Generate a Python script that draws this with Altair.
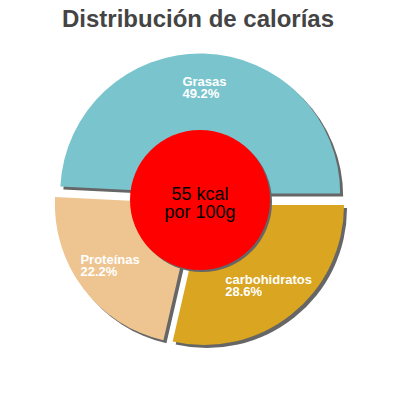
import altair as alt
import pandas as pd

# ---- data ----
categories = ["carbohidratos", "Proteínas", "Grasas"]
percents = [28.6, 22.2, 49.2]
slice_colors = ["#DAA520", "#EEC591", "#7AC5CD"]
kcal = [55]
center_unit = ["kcal", "por 100g"]
title_text = "Distribución de calorías"

# ---- layout / style ----
CX, CY = 192, 152      # pie centre in plot coordinates
R = 140                # outer radius
EXPLODE = 6.5          # explode distance of slices
LABEL_R = 105          # label distance from slice centre
SHADOW = 3             # shadow offset
HOLE_R = 70
FONT = "Liberation Sans"

df = pd.DataFrame({"cat": categories, "pct": percents, "order": list(range(len(categories)))})

base = (
    alt.Chart(df)
    .transform_window(cum="sum(pct)", sort=[alt.SortField("order")])
    .transform_calculate(a0="PI/2 + 2*PI*(datum.cum - datum.pct)/100")
    .transform_calculate(a1="PI/2 + 2*PI*datum.cum/100")
    .transform_calculate(mid="(datum.a0 + datum.a1)/2")
    .transform_calculate(cx=f"{CX} + {EXPLODE}*sin(datum.mid)")
    .transform_calculate(cy=f"{CY} - {EXPLODE}*cos(datum.mid)")
    .transform_calculate(sx=f"datum.cx + {SHADOW}")
    .transform_calculate(sy=f"datum.cy + {SHADOW}")
    .transform_calculate(lx=f"datum.cx + {LABEL_R}*sin(datum.mid) - 6.8*length(datum.cat)/2")
    .transform_calculate(ly=f"datum.cy - {LABEL_R}*cos(datum.mid)")
    .transform_calculate(pl="format(datum.pct, '.1f') + '%'")
)

shadows = base.mark_arc(outerRadius=R, color="#666666").encode(
    x=alt.X("sx:Q", scale=None, axis=None),
    y=alt.Y("sy:Q", scale=None, axis=None),
    theta=alt.Theta("a0:Q", scale=None),
    theta2="a1:Q",
)

slices = base.mark_arc(outerRadius=R).encode(
    x=alt.X("cx:Q", scale=None, axis=None),
    y=alt.Y("cy:Q", scale=None, axis=None),
    theta=alt.Theta("a0:Q", scale=None),
    theta2="a1:Q",
    color=alt.Color("cat:N", scale=alt.Scale(domain=categories, range=slice_colors), legend=None),
)

names = base.mark_text(
    align="left", baseline="alphabetic", dy=-3, fontSize=13, fontWeight="bold", font=FONT, color="white"
).encode(
    x=alt.X("lx:Q", scale=None, axis=None),
    y=alt.Y("ly:Q", scale=None, axis=None),
    text="cat:N",
)

pcts = base.mark_text(
    align="left", baseline="alphabetic", dy=9, fontSize=13, fontWeight="bold", font=FONT, color="white"
).encode(
    x=alt.X("lx:Q", scale=None, axis=None),
    y=alt.Y("ly:Q", scale=None, axis=None),
    text="pl:N",
)

cdf = pd.DataFrame({"kcal": kcal})
center = alt.Chart(cdf).transform_calculate(
    label=f"datum.kcal + ' {center_unit[0]}\\n{center_unit[1]}'"
)
hole_size = (2 * HOLE_R) ** 2   # Vega symbol size: circle radius = sqrt(size)/2

hole_shadow = center.mark_circle(size=hole_size, opacity=1, color="#666666").encode(
    x=alt.value(CX + 2), y=alt.value(CY + 2)
)
hole = center.mark_circle(size=hole_size, opacity=1, color="#FF0000").encode(
    x=alt.value(CX), y=alt.value(CY)
)
hole_text = center.mark_text(
    lineBreak="\n", fontSize=18, lineHeight=18, font=FONT, color="black", baseline="middle", align="center"
).encode(
    x=alt.value(CX), y=alt.value(CY - 5), text="label:N"
)

chart = (
    alt.layer(shadows, slices, hole_shadow, hole, hole_text, names, pcts)
    .properties(
        width=380,
        height=330,
        autosize="none",
        padding={"left": 0, "top": 40, "right": 0, "bottom": 0},
        title=alt.Title(
            title_text,
            fontSize=24,
            fontWeight="bold",
            color="#444444",
            font=FONT,
            anchor="middle",
            frame="group",
            baseline="alphabetic",
            offset=5,
            dy=8,
        ),
        background="white",
    )
    .configure_view(stroke=None)
)

chart.save("out.html", embed_options={"renderer": "svg", "actions": False})
